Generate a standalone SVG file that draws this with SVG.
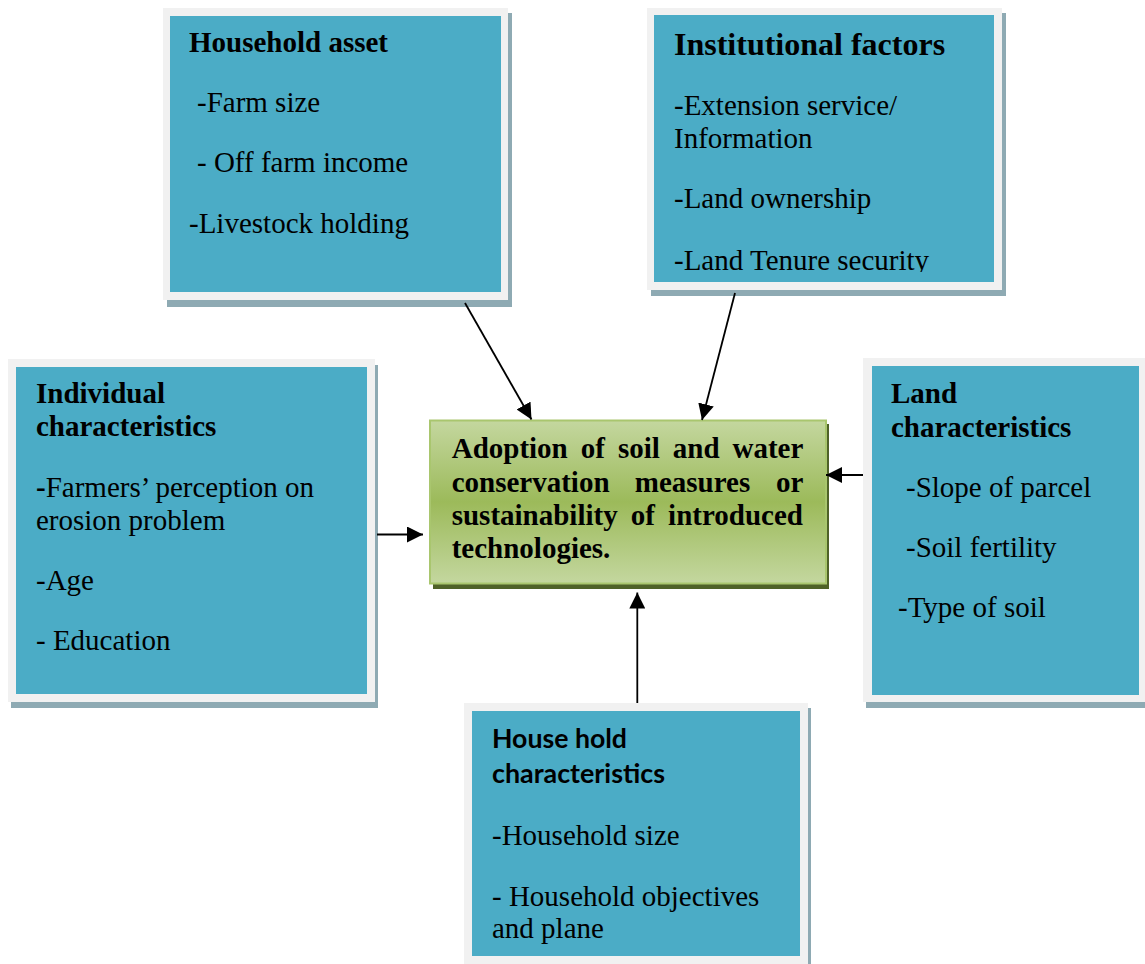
<svg xmlns="http://www.w3.org/2000/svg" width="1145" height="964" viewBox="0 0 1145 964">
  <defs>
    <linearGradient id="green" x1="0" y1="0" x2="0" y2="1">
      <stop offset="0" stop-color="#c4d79f"/>
      <stop offset="0.5" stop-color="#9cba5a"/>
      <stop offset="1" stop-color="#c4d79f"/>
    </linearGradient>
    <marker id="arr" viewBox="0 0 16 16" refX="16" refY="8" markerWidth="16" markerHeight="16" markerUnits="userSpaceOnUse" orient="auto">
      <path d="M0,0 L16,8 L0,16 Z" fill="#000"/>
    </marker>
    <clipPath id="instClip"><rect x="654" y="15" width="340" height="257"/></clipPath>
  </defs>
  <style>
    .shadow { fill: #8eaab3; }
    .frame { fill: #f1f1f1; }
    .teal { fill: #4bacc6; }
    .serif { font-family: "Liberation Serif", "Times New Roman", serif; font-size: 29px; fill: #000; }
    .b { font-weight: bold; }
    .sans { font-family: Lato, "Open Sans", "Liberation Sans", sans-serif; font-size: 26px; font-weight: bold; fill: #000; }
    .conn { stroke: #000; stroke-width: 1.8; fill: none; marker-end: url(#arr); }
  </style>
  <rect width="1145" height="964" fill="#fff"/>

  <g id="household-asset">
    <rect class="shadow" x="167" y="13" width="345" height="294"/>
    <rect class="frame" x="163" y="8" width="345" height="292"/>
    <rect class="teal" x="170" y="16" width="331" height="276"/>
    <text class="serif b" x="189" y="52">Household asset</text>
    <text class="serif" x="197" y="112">-Farm size</text>
    <text class="serif" x="197" y="172">- Off farm income</text>
    <text class="serif" x="189" y="233">-Livestock holding</text>
  </g>

  <g id="institutional-factors">
    <rect class="shadow" x="651" y="13" width="355" height="283"/>
    <rect class="frame" x="647" y="8" width="355" height="282"/>
    <rect class="teal" x="654" y="15" width="340" height="267"/>
    <text class="serif b" x="674" y="55" style="font-size:32px">Institutional factors</text>
    <text class="serif" x="674" y="115">-Extension service/</text>
    <text class="serif" x="674" y="148">Information</text>
    <text class="serif" x="674" y="208">-Land ownership</text>
    <text class="serif" x="674" y="270" clip-path="url(#instClip)">-Land Tenure security</text>
  </g>

  <g id="individual-characteristics">
    <rect class="shadow" x="11" y="365" width="367" height="343"/>
    <rect class="frame" x="8" y="359" width="367" height="343"/>
    <rect class="teal" x="16" y="367" width="351" height="327"/>
    <text class="serif b" x="36" y="403">Individual</text>
    <text class="serif b" x="36" y="436">characteristics</text>
    <text class="serif" x="36" y="497"><tspan class="b">-</tspan>Farmers’ perception on</text>
    <text class="serif" x="36" y="530">erosion problem</text>
    <text class="serif" x="36" y="590">-Age</text>
    <text class="serif" x="36" y="650">- Education</text>
  </g>

  <g id="land-characteristics">
    <rect class="shadow" x="866" y="364" width="290" height="344"/>
    <rect class="frame" x="863" y="358" width="290" height="344"/>
    <rect class="teal" x="872" y="366" width="267" height="329"/>
    <text class="serif b" x="891" y="403">Land</text>
    <text class="serif b" x="891" y="437">characteristics</text>
    <text class="serif" x="906" y="497">-Slope of parcel</text>
    <text class="serif" x="906" y="557">-Soil fertility</text>
    <text class="serif" x="898" y="617">-Type of soil</text>
  </g>

  <g id="household-characteristics">
    <rect class="shadow" x="467" y="708" width="344" height="262"/>
    <rect class="frame" x="464" y="703" width="344" height="262"/>
    <rect class="teal" x="472" y="711" width="328" height="245"/>
    <text class="sans" x="492" y="748" textLength="135" lengthAdjust="spacingAndGlyphs">House hold</text>
    <text class="sans" x="492" y="783" textLength="173" lengthAdjust="spacingAndGlyphs">characteristics</text>
    <text class="serif" x="492" y="845">-Household size</text>
    <text class="serif" x="492" y="906">- Household objectives</text>
    <text class="serif" x="492" y="938">and plane</text>
  </g>

  <g id="adoption">
    <rect x="433" y="424" width="396" height="165" fill="#4f6228"/>
    <rect x="430" y="420.5" width="396" height="163" fill="url(#green)" stroke="#a9c66e" stroke-width="2"/>
    <text class="serif b" y="458">
      <tspan x="451.7">Adoption</tspan><tspan x="580.7">of</tspan><tspan x="617.9">soil</tspan><tspan x="672.8">and</tspan><tspan x="732.5">water</tspan>
    </text>
    <text class="serif b" y="492">
      <tspan x="451.7">conservation</tspan><tspan x="634.8">measures</tspan><tspan x="776">or</tspan>
    </text>
    <text class="serif b" y="525">
      <tspan x="451.7">sustainability</tspan><tspan x="630.7">of</tspan><tspan x="668.1">introduced</tspan>
    </text>
    <text class="serif b" x="451.7" y="558">technologies.</text>
  </g>

  <g id="connectors">
    <line class="conn" x1="465" y1="303" x2="531.5" y2="419.5"/>
    <line class="conn" x1="735" y1="293" x2="702" y2="420"/>
    <line class="conn" x1="377" y1="534.5" x2="423" y2="534.5"/>
    <line class="conn" x1="863" y1="475" x2="826" y2="475"/>
    <line class="conn" x1="637.3" y1="703" x2="637.3" y2="592.5"/>
  </g>
</svg>
